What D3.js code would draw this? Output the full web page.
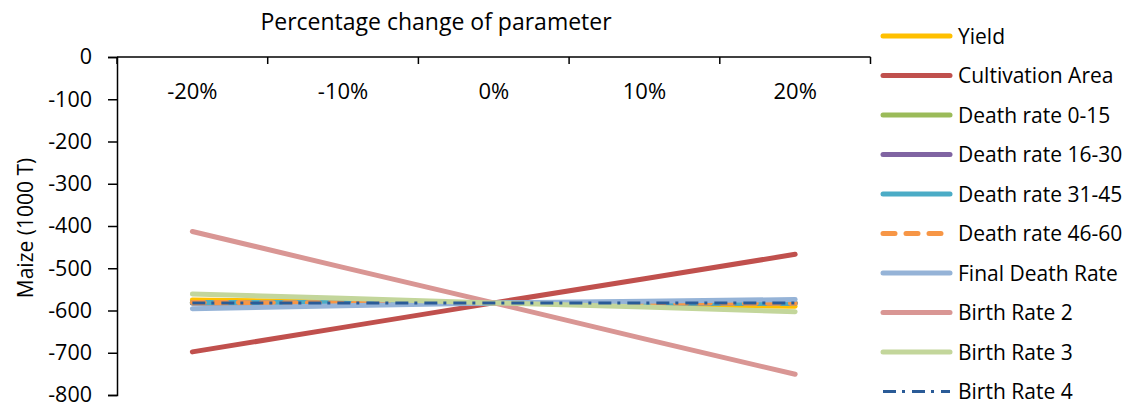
<!DOCTYPE html>
<html>
<head>
<meta charset="utf-8">
<script src="https://cdn.jsdelivr.net/npm/d3@7"></script>
<style>
  html, body { margin: 0; padding: 0; background: #fff; }
  svg { display: block; font-family: "Open Sans", "Liberation Sans", sans-serif; }
  text { fill: #000; }
</style>
</head>
<body>
<svg id="chart" width="1127" height="410"></svg>
<script>
// Percentage change applied to each parameter
const categories = ["-20%", "-10%", "0%", "10%", "20%"];

// Maize balance (1000 T) for each parameter change
const yieldVals        = [-575, -579, -582, -586, -590];
const cultivationArea  = [-698, -640, -582, -525, -467];
const deathRate0_15    = [-582, -582, -582, -582, -582];
const deathRate16_30   = [-582, -582, -582, -582, -582];
const deathRate31_45   = [-581, -581, -582, -582, -583];
const deathRate46_60   = [-581, -582, -582, -582, -583];
const finalDeathRate   = [-596, -589, -582, -578, -574];
const birthRate2       = [-413, -498, -582, -667, -751];
const birthRate3       = [-561, -571, -582, -592, -603];
const birthRate4       = [-582, -582, -582, -582, -582];

const seriesNames = ["Yield", "Cultivation Area", "Death rate 0-15", "Death rate 16-30",
  "Death rate 31-45", "Death rate 46-60", "Final Death Rate", "Birth Rate 2",
  "Birth Rate 3", "Birth Rate 4"];
const seriesValues = [yieldVals, cultivationArea, deathRate0_15, deathRate16_30,
  deathRate31_45, deathRate46_60, finalDeathRate, birthRate2, birthRate3, birthRate4];

const yTicks = [0, -100, -200, -300, -400, -500, -600, -700, -800];

// Styling per series
const styles = [
  { color: "#FFC000", width: 5, dash: null },
  { color: "#C0504D", width: 5, dash: null },
  { color: "#9BBB59", width: 5, dash: null },
  { color: "#8064A2", width: 5, dash: null },
  { color: "#4BACC6", width: 5, dash: null },
  { color: "#F79646", width: 5, dash: "12,11" },
  { color: "#95B3D7", width: 5, dash: null },
  { color: "#D99694", width: 5, dash: null },
  { color: "#C3D69B", width: 5, dash: null },
  { color: "#2A5B97", width: 3, dash: "13,6,3,7", cap: "butt" }
];

const svg = d3.select("#chart");
const FONT = 21;
const FAMILY = "'Open Sans', 'Liberation Sans', sans-serif";

const x = d3.scaleBand().domain(categories).range([117, 870.5]).padding(0);
const y = d3.scaleLinear().domain([-800, 0]).range([395, 57]);

// Title
svg.append("text")
  .attr("x", 436).attr("y", 24)
  .attr("text-anchor", "middle").attr("dominant-baseline", "middle")
  .style("font-size", "23px")
  .text("Percentage change of parameter");

// Y axis
const yAxis = svg.append("g")
  .attr("transform", `translate(${x.range()[0]},0)`)
  .call(d3.axisLeft(y).tickValues(yTicks).tickSize(9).tickPadding(16)
    .tickFormat(d => String(d)));
yAxis.select(".domain").attr("stroke", "#000").attr("stroke-width", 1.5);
yAxis.selectAll(".tick line").attr("stroke", "#000").attr("stroke-width", 1.5);
yAxis.selectAll(".tick text").style("font-size", "21.5px")
  .style("font-family", FAMILY).attr("fill", "#000");

// Y axis title
svg.append("text")
  .attr("transform", `translate(27,${(y(0) + y(-800)) / 2 + 2}) rotate(-90)`)
  .attr("text-anchor", "middle").attr("dominant-baseline", "middle")
  .style("font-size", FONT + "px")
  .text("Maize (1000 T)");

// Category axis along the zero line
const y0 = y(0);
const catAxis = svg.append("g").attr("transform", `translate(0,${y0})`);
catAxis.append("line")
  .attr("x1", x.range()[0]).attr("x2", x.range()[1])
  .attr("y1", 0).attr("y2", 0)
  .attr("stroke", "#000").attr("stroke-width", 1.5);
const boundaries = categories.map(c => x(c)).concat([x.range()[1]]);
catAxis.selectAll("line.tick").data(boundaries).join("line")
  .attr("class", "tick")
  .attr("x1", d => d).attr("x2", d => d)
  .attr("y1", 0).attr("y2", 7)
  .attr("stroke", "#000").attr("stroke-width", 1.5);
const catLabels = svg.append("g").attr("transform", `translate(0,${y0})`)
  .call(d3.axisBottom(x).tickSize(0).tickPadding(0));
catLabels.select(".domain").remove();
catLabels.selectAll(".tick text")
  .attr("y", 36).attr("dy", null).attr("dominant-baseline", "middle")
  .style("font-size", "22px")
  .style("font-family", FAMILY).attr("fill", "#000");

// Series lines
const line = d3.line()
  .x((d, i) => x(categories[i]) + x.bandwidth() / 2)
  .y(d => y(d));

const plot = svg.append("g");
seriesValues.forEach((vals, i) => {
  const s = styles[i];
  plot.append("path")
    .datum(vals)
    .attr("d", line)
    .attr("fill", "none")
    .attr("stroke", s.color)
    .attr("stroke-width", s.width)
    .attr("stroke-linecap", s.cap || "round")
    .attr("stroke-linejoin", "round")
    .attr("stroke-dasharray", s.dash);
});

// Legend
const legend = svg.append("g");
const legX1 = 883, legX2 = 950, legText = 958, legTop = 36, legStep = 39.5;
seriesNames.forEach((name, i) => {
  const s = styles[i];
  const ly = legTop + i * legStep;
  legend.append("line")
    .attr("x1", legX1).attr("x2", legX2)
    .attr("y1", ly).attr("y2", ly)
    .attr("stroke", s.color)
    .attr("stroke-width", s.width)
    .attr("stroke-linecap", s.cap || "round")
    .attr("stroke-dasharray", s.dash);
  legend.append("text")
    .attr("x", legText).attr("y", ly + 2)
    .attr("dominant-baseline", "middle")
    .style("font-size", FONT + "px")
    .text(name);
});
</script>
</body>
</html>
